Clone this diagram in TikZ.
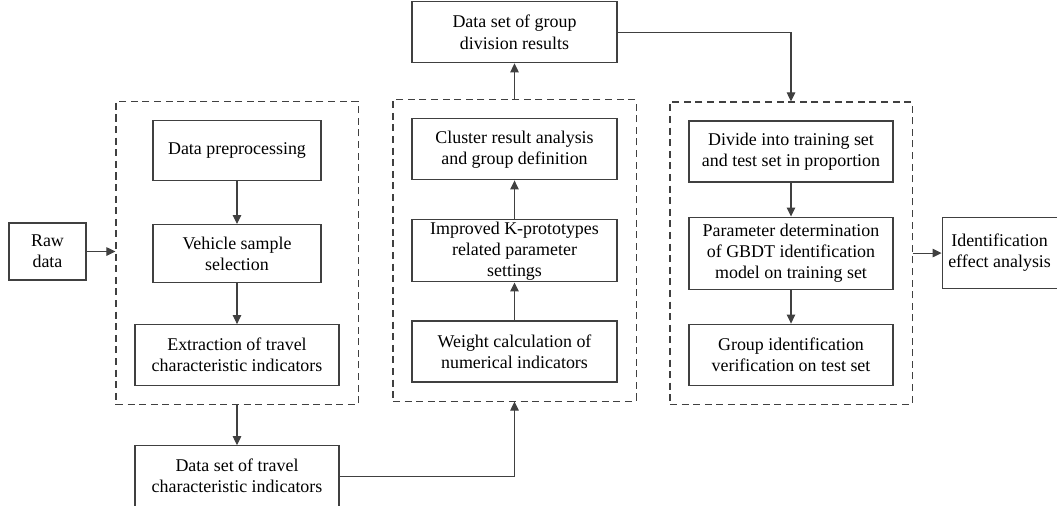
\documentclass[tikz,border=0pt]{standalone}
\usepackage{fontspec}
\setmainfont{Liberation Serif}
\usetikzlibrary{positioning, arrows.meta, fit}

\begin{document}
\begin{tikzpicture}[
        font=\rmfamily\fontsize{10.2}{12}\selectfont,
        B/.style = {draw, black!75, text=black, line width=0.6pt, align=center, inner sep=1pt, minimum height=1.2cm},
        G/.style = {draw, black!75, dash pattern=on 4pt off 2.6pt, line width=0.6pt, inner sep=0.37cm},
        arrow/.style = {-{Triangle[length=1.8mm, width=1.7mm]}, black!75, line width=0.6pt}
    ]
        \useasboundingbox (0,0) rectangle (21.14,-10.1);

        % left column
        \node[B, minimum width=3.36cm] (pre) at (4.74,-3.01) {Data preprocessing};
        \node[B, minimum width=3.36cm, minimum height=1.16cm, below=0.86cm of pre] (veh) {Vehicle sample\\selection};
        \node[B, minimum width=4.08cm, minimum height=1.22cm, below=0.82cm of veh] (ext) {Extraction of travel\\characteristic indicators};
        \node[G, fit=(pre)(ext)] (lbox) {};
        \node[B, minimum width=4.08cm, minimum height=1.22cm, below=0.8cm of lbox] (dst) {Data set of travel\\characteristic indicators};

        \node[B, minimum width=1.54cm, minimum height=1.14cm] (raw) at (0.95,-5.03) {Raw\\data};

        % middle column
        \node[B, minimum width=4.1cm, minimum height=1.22cm] (wgt) at (10.29,-7.03) {Weight calculation of\\numerical indicators};
        \node[B, minimum width=4.1cm, minimum height=1.24cm, above=0.76cm of wgt] (imp) {Improved K-prototypes\\related parameter\\settings};
        \node[B, minimum width=4.1cm, minimum height=1.22cm, above=0.78cm of imp] (clu) {Cluster result analysis\\and group definition};
        \node[G, fit=(clu)(wgt)] (mbox) {};
        \node[B, minimum width=4.1cm, minimum height=1.22cm, above=0.72cm of mbox] (grp) {Data set of group\\division results};

        % right column
        \node[B, minimum width=4.08cm, minimum height=1.22cm] (div) at (15.82,-3.03) {Divide into training set\\and test set in proportion};
        \node[B, minimum width=4.08cm, minimum height=1.44cm, below=0.68cm of div] (par) {Parameter determination\\of GBDT identification\\model on training set};
        \node[B, minimum width=4.08cm, minimum height=1.22cm, below=0.68cm of par] (gid) {Group identification\\verification on test set};
        \node[G, fit=(div)(gid)] (rbox) {};

        \node[B, minimum width=2.3cm, minimum height=1.42cm, right=0.58cm of rbox] (eff) {Identification\\effect analysis};

        \draw[arrow] (raw.east) -- (raw -| lbox.west);
        \draw[arrow] (pre) -- (veh);
        \draw[arrow] (veh) -- (ext);
        \draw[arrow] (lbox) -- (dst);
        \draw[arrow] (dst.east) -| (mbox.south);
        \draw[arrow] (wgt) -- (imp);
        \draw[arrow] (imp) -- (clu);
        \draw[arrow] (mbox) -- (grp);
        \draw[arrow] (grp.east) -| (rbox.north);
        \draw[arrow] (div) -- (par);
        \draw[arrow] (par) -- (gid);
        \draw[arrow] (rbox.east) -- (eff.west);

    \end{tikzpicture}
\end{document}
